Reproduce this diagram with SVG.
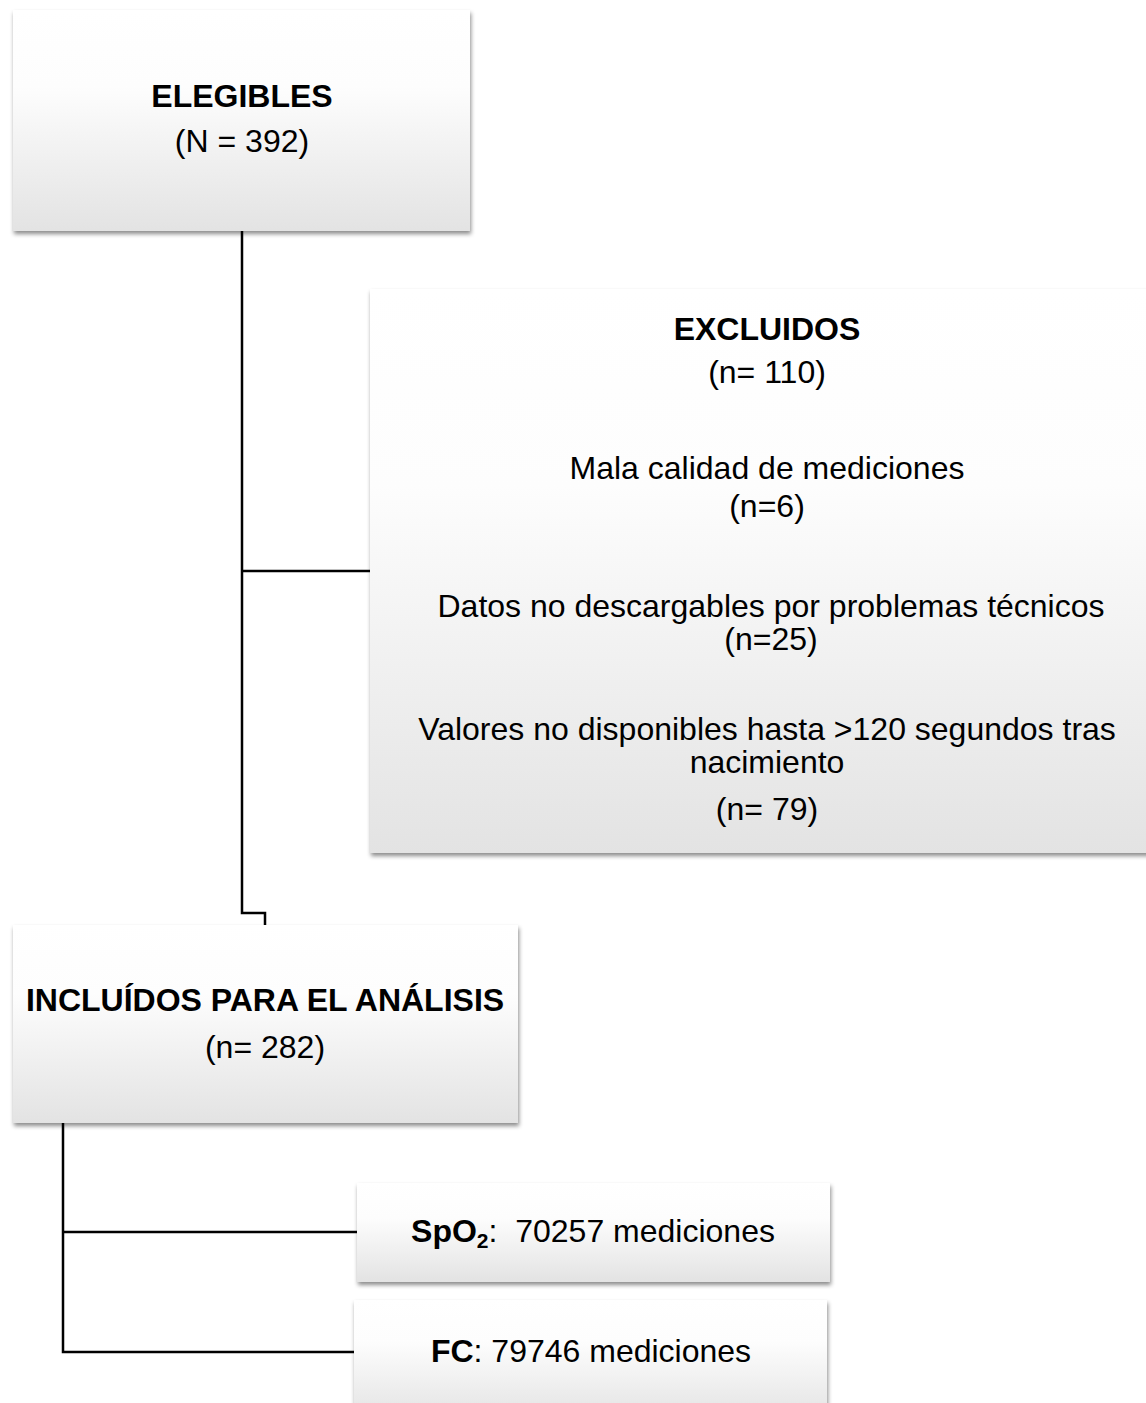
<svg xmlns="http://www.w3.org/2000/svg" width="1146" height="1403" viewBox="0 0 1146 1403">
  <defs>
    <linearGradient id="boxFill" x1="0" y1="0" x2="0" y2="1">
      <stop offset="0" stop-color="#ffffff"/>
      <stop offset="0.35" stop-color="#fdfdfd"/>
      <stop offset="1" stop-color="#e3e3e3"/>
    </linearGradient>
    <filter id="shadow" x="-5%" y="-5%" width="112%" height="115%">
      <feDropShadow dx="1" dy="3" stdDeviation="2" flood-color="#000000" flood-opacity="0.45"/>
    </filter>
  </defs>
  <style>
    .box { fill: url(#boxFill); filter: url(#shadow); }
    .t { font-family: "Liberation Sans", Arial, sans-serif; font-size: 32px; fill: #000; text-anchor: middle; }
    .b { font-weight: bold; }
    .conn { fill: none; stroke: #000; stroke-width: 2.5; }
  </style>
  <rect x="0" y="0" width="1146" height="1403" fill="#ffffff"/>

  <g id="connectors">
    <path class="conn" d="M242 231 V913 H265 V925"/>
    <path class="conn" d="M242 571 H370"/>
    <path class="conn" d="M63 1123 V1352 H354"/>
    <path class="conn" d="M63 1232 H357"/>
  </g>

  <g id="node-elegibles">
    <rect class="box" x="13" y="10" width="457" height="221"/>
    <text class="t b" x="242" y="107">ELEGIBLES</text>
    <text class="t" x="242" y="152">(N = 392)</text>
  </g>

  <g id="node-excluidos">
    <rect class="box" x="370" y="289" width="800" height="564"/>
    <text class="t b" x="767" y="340">EXCLUIDOS</text>
    <text class="t" x="767" y="383">(n= 110)</text>
    <text class="t" x="767" y="479">Mala calidad de mediciones</text>
    <text class="t" x="767" y="517">(n=6)</text>
    <text class="t" x="771" y="617">Datos no descargables por problemas técnicos</text>
    <text class="t" x="771" y="650">(n=25)</text>
    <text class="t" x="767" y="740">Valores no disponibles hasta &gt;120 segundos tras</text>
    <text class="t" x="767" y="773">nacimiento</text>
    <text class="t" x="767" y="820">(n= 79)</text>
  </g>

  <g id="node-incluidos">
    <rect class="box" x="13" y="925" width="505" height="198"/>
    <text class="t b" x="265" y="1011">INCLUÍDOS PARA EL ANÁLISIS</text>
    <text class="t" x="265" y="1058">(n= 282)</text>
  </g>

  <g id="node-spo2">
    <rect class="box" x="357" y="1183" width="473" height="99"/>
    <text class="t" x="593" y="1242"><tspan class="b">SpO</tspan><tspan class="b" font-size="21" dy="6">2</tspan><tspan dy="-6" xml:space="preserve">:  70257 mediciones</tspan></text>
  </g>

  <g id="node-fc">
    <rect class="box" x="354" y="1300" width="473" height="120"/>
    <text class="t" x="591" y="1362"><tspan class="b">FC</tspan>: 79746 mediciones</text>
  </g>
</svg>
